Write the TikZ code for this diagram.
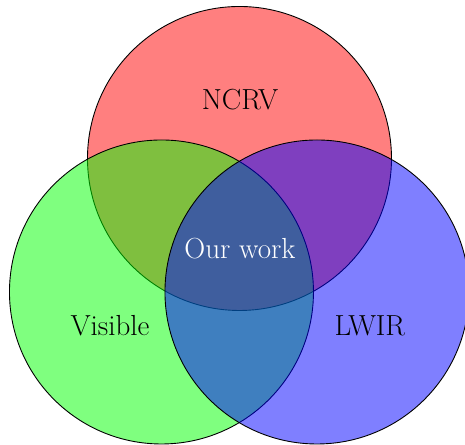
\documentclass[tikz,border=0pt]{standalone}
\usetikzlibrary{positioning}

\begin{document}
\begin{tikzpicture}[
  set/.style={draw=black,fill opacity=0.5,line width=0.5pt},
  setlabel/.style={font=\fontsize{16.3}{19}\selectfont}]
\useasboundingbox (0,0) rectangle (9.178,8.783);

\def\r{3}

\coordinate (R) at (4.727,5.655);
\coordinate (G) at (3.187,3.020);
\coordinate (B) at (6.256,3.020);

\draw[set,fill=red]   (R) circle[radius=\r];
\draw[set,fill=green] (G) circle[radius=\r];
\draw[set,fill=blue]  (B) circle[radius=\r];

\node[setlabel] (ncrv)    at (4.737,6.809) {NCRV};
\node[setlabel] (visible) at (2.171,2.349) {Visible};
\node[setlabel] (lwir)    at (7.300,2.349) {LWIR};
\node[setlabel,white] (ours) at (4.737,3.869) {Our work};

\end{tikzpicture}
\end{document}
